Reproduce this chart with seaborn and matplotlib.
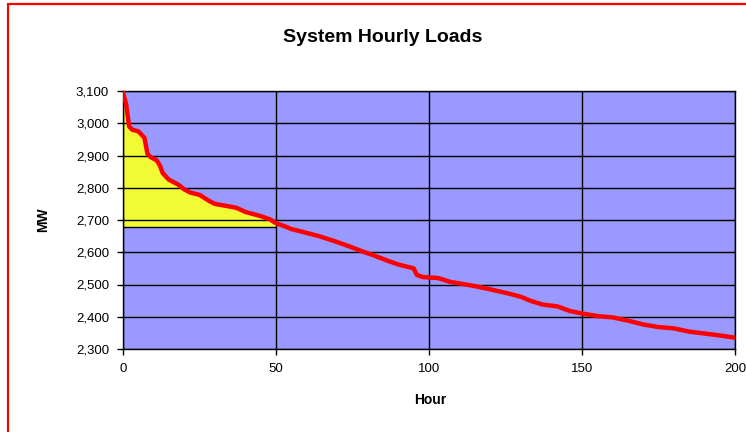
import numpy as np
import pandas as pd
import seaborn as sns
import matplotlib.pyplot as plt
from matplotlib.patches import Rectangle
from matplotlib.ticker import FuncFormatter

# load duration curve (hour, MW)
hours = [0, 1, 2, 3, 5, 7, 8, 9, 11, 12, 13, 15, 18, 20, 22, 25, 28, 30, 33,
         37, 40, 45, 48, 50, 53, 55, 58, 64, 69, 74, 79, 82, 87, 90, 95, 96,
         98, 103, 107, 112, 115, 120, 126, 130, 133, 137, 142, 146, 150, 155,
         160, 165, 170, 175, 180, 185, 190, 195, 200]
loads = [3095, 3060, 2990, 2980, 2975, 2955, 2905, 2895, 2885, 2870, 2845,
         2825, 2810, 2795, 2785, 2778, 2760, 2750, 2745, 2738, 2725, 2712,
         2702, 2690, 2680, 2672, 2665, 2650, 2635, 2618, 2600, 2590, 2572,
         2562, 2550, 2530, 2523, 2520, 2508, 2500, 2495, 2485, 2472, 2462,
         2450, 2438, 2432, 2418, 2410, 2402, 2398, 2388, 2376, 2368, 2364,
         2354, 2348, 2342, 2335]

# peak area shaded in yellow
peak_base = 2678
peak_end = 50

y_ticks = [2300, 2400, 2500, 2600, 2700, 2800, 2900, 3000, 3100]
x_ticks = [0, 50, 100, 150, 200]

df = pd.DataFrame({"Hour": hours, "MW": loads})

sns.set_theme(style="white")
plt.rcParams["font.family"] = ["Liberation Sans", "DejaVu Sans"]
plt.rcParams["text.color"] = "black"
plt.rcParams["xtick.color"] = "black"
plt.rcParams["ytick.color"] = "black"

fig = plt.figure(figsize=(7.46, 4.32), dpi=100)
ax = fig.add_axes([123 / 746, 1 - 349 / 432, 612 / 746, 258 / 432])
ax.set_facecolor("#9999ff")

# red frame around the chart (right/bottom fall outside the picture)
fig.patches.append(Rectangle((8 / 746, -0.1), 1.2, 1 - 4 / 432 + 0.1,
                             transform=fig.transFigure, fill=False,
                             edgecolor="#ff0000", linewidth=1.6))

peak = df[df["Hour"] <= peak_end]
ax.fill_between(peak["Hour"], peak_base, peak["MW"], color="#f2fa35",
                linewidth=0, zorder=1)
ax.hlines(peak_base, 0, peak_end, color="black", linewidth=1, zorder=2)

ax.set_xlim(0, 200)
ax.set_ylim(2300, 3100)
ax.set_xticks(x_ticks)
ax.set_yticks(y_ticks)
ax.grid(True, color="black", linewidth=1, zorder=2)
ax.set_axisbelow(False)

sns.lineplot(data=df, x="Hour", y="MW", ax=ax, color="#ff0000",
             linewidth=3.2, zorder=3)

ax.yaxis.set_major_formatter(FuncFormatter(lambda v, p: f"{int(v):,}"))
ax.tick_params(axis="both", which="both", direction="out", length=4,
               width=1, color="black", labelcolor="black", labelsize=9.5,
               pad=6, left=True, bottom=True)
for s in ax.spines.values():
    s.set_color("black")
    s.set_linewidth(1)

ax.set_xlabel("")
ax.set_ylabel("")
fig.text(383 / 746, 1 - 38 / 432, "System Hourly Loads", ha="center",
         va="center", fontsize=14, fontweight="bold", color="black")
fig.text(43 / 746, 1 - 220 / 432, "MW", ha="center", va="center",
         rotation=90, fontsize=10, fontweight="bold", color="black")
fig.text(430 / 746, 1 - 400 / 432, "Hour", ha="center", va="center",
         fontsize=10, fontweight="bold", color="black")

fig.savefig("out.png", dpi=100)
